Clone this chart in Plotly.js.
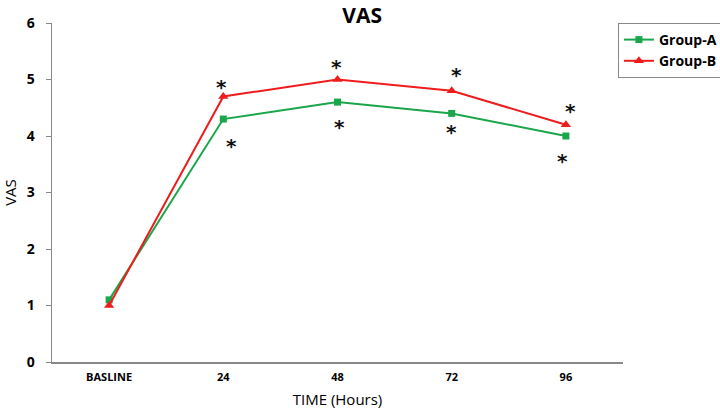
<!DOCTYPE html>
<html><head><meta charset="utf-8">
<script src="https://cdn.plot.ly/plotly-3.0.1.min.js"></script>
<style>body{margin:0;background:#fff}#chart{width:720px;height:411px}</style>
</head><body><div id="chart"></div>
<script>
const categories = ["BASLINE", "24", "48", "72", "96"];
const groupA = [1.1, 4.3, 4.6, 4.4, 4.0];
const groupB = [1.0, 4.7, 5.0, 4.8, 4.2];
// asterisk marks: [x position (category index), y value]
const starX = [0.98, 1.07, 1.99, 2.02, 3.04, 3.0, 4.04, 3.97];
const starY = [4.94, 3.89, 5.29, 4.23, 5.15, 4.14, 4.51, 3.63];

const font = "Open Sans, Liberation Sans, sans-serif";
const traces = [
  {x: categories, y: groupA, name: "<b>Group-A</b>", type: "scatter", mode: "lines+markers",
   line: {color: "#1aa64a", width: 2}, marker: {symbol: "square", size: 7, color: "#1aa64a"}},
  {x: categories, y: groupB, name: "<b>Group-B</b>", type: "scatter", mode: "lines+markers",
   line: {color: "#ee1c1c", width: 2}, marker: {symbol: "triangle-up", size: 9, color: "#ee1c1c"}}
];
const annotations = starX.map((x, i) => ({
  x: x, y: starY[i], xref: "x", yref: "y", text: "<b>*</b>", showarrow: false,
  font: {family: "DejaVu Sans, sans-serif", size: 20, color: "#111"}, yshift: -4
}));
const layout = {
  width: 720, height: 411,
  margin: {l: 52, r: 97, t: 23, b: 49, autoexpand: false},
  paper_bgcolor: "#fff", plot_bgcolor: "#fff",
  title: {text: "<b>VAS</b>", x: 0.503, xanchor: "center", yref: "container", y: 0.963, yanchor: "middle",
          font: {family: font, size: 21, color: "#000"}},
  showlegend: true,
  legend: {x: 1.175, xanchor: "right", y: 1.0, yanchor: "top", bordercolor: "#888", borderwidth: 1,
           font: {family: font, size: 14, color: "#000"}, bgcolor: "#fff", itemwidth: 30},
  xaxis: {type: "category", range: [-0.5, 4.5], showline: true, linecolor: "#888", linewidth: 1.5,
          ticks: "", showgrid: false, zeroline: false, ticklabelstandoff: 4,
          tickfont: {family: font, size: 11, color: "#000", weight: 700},
          title: {text: "TIME (Hours)", font: {family: font, size: 15, color: "#000"}, standoff: 12}},
  yaxis: {range: [0, 6], dtick: 1, showline: true, linecolor: "#888", linewidth: 1.5,
          ticks: "outside", ticklen: 5, tickcolor: "#888", showgrid: false, zeroline: false,
          ticklabelstandoff: 8,
          tickfont: {family: font, size: 14, color: "#000", weight: 700},
          title: {text: "VAS", font: {family: font, size: 15, color: "#000"}, standoff: 10}},
  annotations: annotations
};
Plotly.newPlot("chart", traces, layout, {displayModeBar: false, staticPlot: true});
</script></body></html>
